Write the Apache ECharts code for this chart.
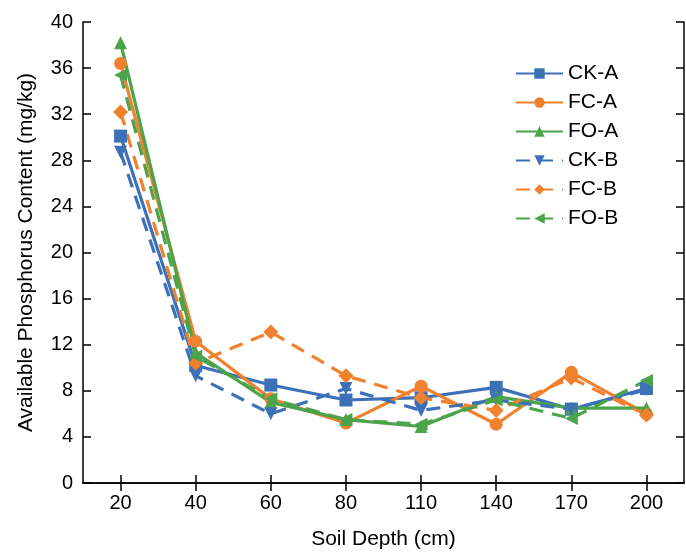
<!DOCTYPE html>
<html>
<head>
<meta charset="utf-8">
<script src="https://cdn.jsdelivr.net/npm/echarts@6/dist/echarts.min.js"></script>
<style>
  html, body { margin: 0; padding: 0; background: #fff; }
  #chart { width: 686px; height: 555px; }
</style>
</head>
<body>
<div id="chart"></div>
<script>
// soil depth categories (cm)
const depths = ['20', '40', '60', '80', '110', '140', '170', '200'];

// available phosphorus, mg/kg
const ckA = [30.1, 10.2, 8.5, 7.2, 7.4, 8.3, 6.4, 8.2];
const fcA = [36.4, 12.3, 7.3, 5.2, 8.4, 5.1, 9.6, 6.0];
const foA = [38.2, 11.3, 7.0, 5.5, 4.9, 7.5, 6.5, 6.5];
const ckB = [28.7, 9.3, 6.0, 8.2, 6.3, 7.2, 6.4, 8.1];
const fcB = [32.2, 10.4, 13.1, 9.3, 7.4, 6.3, 9.1, 5.9];
const foB = [35.4, 11.0, 7.3, 5.5, 5.1, 7.2, 5.6, 8.9];

const yTicks = { min: 0, max: 40, interval: 4 };

const BLUE = '#3d71b7';
const ORANGE = '#f0812f';
const GREEN = '#4ba34a';

const font = 'Liberation Sans, Arial, sans-serif';

function mkSeries(name, data, color, symbol, rotate, dashed) {
  return {
    name: name,
    type: 'line',
    data: data,
    symbol: symbol,
    symbolRotate: rotate,
    symbolSize: symbol === 'diamond' ? 15 : 13,
    itemStyle: { color: color },
    lineStyle: { color: color, width: 3.2, type: dashed ? [14, 9] : 'solid' },
    z: 3
  };
}

const chart = echarts.init(document.getElementById('chart'));

const axisLine = { show: true, lineStyle: { color: '#000', width: 1.5 } };
const tick = { show: true, inside: true, length: 8, lineStyle: { color: '#000', width: 1.5 } };

chart.setOption({
  animation: false,
  backgroundColor: '#fff',
  textStyle: { fontFamily: font },
  grid: { left: 83, right: 2, top: 22, bottom: 71 },
  legend: {
    orient: 'vertical',
    left: 510,
    top: 58,
    itemWidth: 47,
    itemHeight: 13,
    itemGap: 8,
    textStyle: { fontSize: 21, color: '#000', fontFamily: font },
    data: ['CK-A', 'FC-A', 'FO-A', 'CK-B', 'FC-B', 'FO-B']
  },
  xAxis: [{
    type: 'category',
    data: depths,
    boundaryGap: true,
    name: 'Soil Depth (cm)',
    nameLocation: 'middle',
    nameGap: 46,
    nameTextStyle: { fontSize: 21, color: '#000' },
    axisLine: axisLine,
    axisTick: Object.assign({ alignWithLabel: true }, tick),
    axisLabel: { fontSize: 20, color: '#000', margin: 10 },
    splitLine: { show: false }
  }, {
    type: 'category',
    data: depths,
    position: 'top',
    boundaryGap: true,
    axisLine: axisLine,
    axisTick: Object.assign({ alignWithLabel: true }, tick),
    axisLabel: { show: false },
    splitLine: { show: false }
  }],
  yAxis: [{
    type: 'value',
    min: yTicks.min,
    max: yTicks.max,
    interval: yTicks.interval,
    name: 'Available Phosphorus Content (mg/kg)',
    nameLocation: 'middle',
    nameGap: 46,
    nameTextStyle: { fontSize: 21, color: '#000' },
    axisLine: axisLine,
    axisTick: tick,
    axisLabel: { fontSize: 20, color: '#000', margin: 10 },
    splitLine: { show: false }
  }, {
    type: 'value',
    position: 'right',
    min: yTicks.min,
    max: yTicks.max,
    interval: yTicks.interval,
    axisLine: axisLine,
    axisTick: tick,
    axisLabel: { show: false },
    splitLine: { show: false }
  }],
  series: [
    mkSeries('CK-A', ckA, BLUE, 'rect', 0, false),
    mkSeries('FC-A', fcA, ORANGE, 'circle', 0, false),
    mkSeries('FO-A', foA, GREEN, 'triangle', 0, false),
    mkSeries('CK-B', ckB, BLUE, 'triangle', 180, true),
    mkSeries('FC-B', fcB, ORANGE, 'diamond', 0, true),
    mkSeries('FO-B', foB, GREEN, 'triangle', 90, true)
  ]
});
</script>
</body>
</html>
